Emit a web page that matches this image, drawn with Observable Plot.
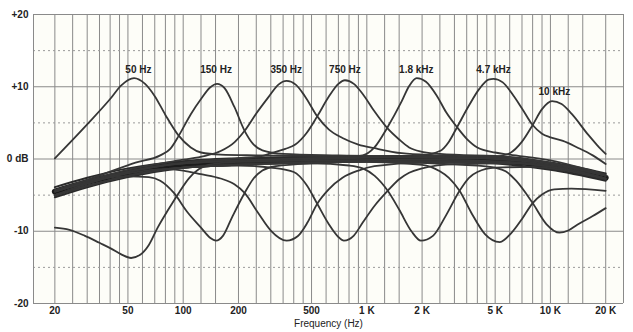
<!DOCTYPE html>
<html><head><meta charset="utf-8">
<script src="https://cdn.jsdelivr.net/npm/d3@7"></script>
<script src="https://cdn.jsdelivr.net/npm/@observablehq/plot@0.6"></script>
<style>body{margin:0;background:#fff;} svg{display:block}</style>
</head><body><div id="chart"></div>
<script>
// Tick labels
const xTicks = [20,50,100,200,500,1000,2000,5000,10000,20000];
const xTickLabels = ["20","50","100","200","500","1 K","2 K","5 K","10 K","20 K"];
const yTicks = [20,10,0,-10,-20];
const yTickLabels = ["+20","+10","0 dB","-10","-20"];
// Chart-paper grid
const gridFreqs = [20,25,30,35,40,45,50,60,70,80,90,
  100,125,150,200,250,300,350,400,450,500,600,700,800,900,
  1000,1250,1500,2000,2500,3000,3500,4000,4500,5000,6000,7000,8000,9000,
  10000,12500,15000,20000,25000];
const gridDbMajor = [-20,-10,0,10,20];
const gridDbMinor = [-15,-5,5,15];
// Curve labels
const curveLabels = ["50 Hz","150 Hz","350 Hz","750 Hz","1.8 kHz","4.7 kHz","10 kHz"];
const labelFreqs = [57,151,364,760,1860,4900,10500];
const labelDb = [12.3,12.3,12.3,12.3,12.3,12.3,9.3];

// Flat (bundle) responses: [Hz, dB]
const flatMid = [[20,-4.5],[30,-3.2],[50,-1.9],[70,-1.2],[100,-0.7],[150,-0.4],[250,-0.2],[500,0],[1000,0.1],[2000,0.1],[4000,-0.1],[7000,-0.5],[10000,-1.0],[14000,-1.7],[20000,-2.6]];
const flatHigh = [[20,-3.9],[30,-2.6],[50,-1.3],[100,-0.3],[200,0.1],[500,0.3],[1000,0.4],[2000,0.4],[5000,0.2],[10000,-0.5],[20000,-2.0]];
const flatLow = [[20,-5.3],[30,-3.9],[50,-2.5],[100,-1.2],[200,-0.6],[500,-0.3],[1000,-0.2],[2000,-0.2],[5000,-0.6],[10000,-1.5],[20000,-3.0]];

// Boost curves
const boost50 = [[20,0.1],[30,4.8],[40,8.3],[46,10.2],[54,11.2],[62,10.4],[70,8.7],[80,6.1],[94,3.3],[110,1.6],[125,0.9],[160,0.6],[250,0.5],[600,0.4],[2000,0.3],[6000,0],[12000,-0.9],[20000,-2.3]];
const boost150 = [[20,-4.3],[35,-2.3],[55,-0.5],[75,0.5],[85,1.4],[95,3.3],[110,6.2],[125,8.3],[140,9.9],[153,10.4],[168,9.8],[190,7.2],[216,3.9],[240,2.1],[270,1.2],[350,0.7],[700,0.5],[2500,0.3],[7000,-0.3],[20000,-2.3]];
const boost350 = [[20,-4.4],[50,-1.5],[100,-0.1],[130,0.4],[160,1.1],[190,2.3],[216,3.9],[250,6.3],[292,8.6],[330,10.3],[366,10.8],[410,10.3],[460,8.7],[537,5.9],[620,4.1],[737,2.9],[900,2.0],[1100,1.5],[1550,0.8],[2500,0.5],[6000,0.1],[20000,-2.3]];
const boost750 = [[20,-4.4],[100,-0.5],[200,0.1],[266,0.4],[300,0.8],[360,1.4],[408,2.0],[470,3.6],[537,5.9],[620,8.6],[700,10.4],[760,10.9],[850,10.4],[950,9.0],[1100,6.6],[1290,4.3],[1500,2.7],[1700,1.6],[2000,1.0],[2500,0.7],[6000,0.3],[20000,-2.3]];
const boost1800 = [[20,-4.5],[100,-0.6],[500,0.1],[800,0.3],[950,0.5],[1100,1.6],[1290,4.3],[1550,8.0],[1700,10.1],[1870,11.2],[2100,10.7],[2400,8.8],[2700,6.5],[3100,4.4],[3500,2.8],[4000,1.6],[5000,0.9],[6000,0.6],[10000,-0.2],[20000,-2.2]];
const boost4700 = [[20,-4.5],[100,-0.6],[1000,0.2],[2000,0.5],[2500,1.1],[2800,2.4],[3100,4.4],[3600,7.4],[4100,9.7],[4600,11.0],[4900,11.1],[5500,10.6],[6200,9.0],[7000,7.0],[8000,4.7],[9000,3.5],[10000,3.0],[11700,2.5],[14000,1.6],[17000,0.5],[20000,-0.7]];
const boost10k = [[20,-4.5],[100,-0.6],[1000,0.2],[4000,0.1],[5000,0.3],[6000,0.8],[7000,2.4],[8000,4.7],[9000,6.9],[10200,8.0],[11500,7.6],[13100,6.2],[16000,3.4],[18000,1.9],[20000,0.7]];

// Cut curves
const cut50 = [[20,-9.5],[24,-9.8],[29,-10.6],[35,-11.6],[40.5,-12.4],[46,-13.2],[52,-13.7],[58,-13.3],[65,-11.9],[72.6,-9.5],[83,-7.0],[94,-4.8],[108,-2.6],[122,-1.4],[137,-0.8],[200,-0.4],[500,-0.2],[2000,-0.1],[6000,-0.4],[12000,-1.3],[20000,-2.7]];
const cut150 = [[20,-5.1],[28,-3.6],[36,-2.7],[50,-2.4],[65,-2.5],[75,-3.0],[89,-4.7],[105,-7.3],[125,-9.5],[140,-10.9],[151,-11.3],[165,-10.6],[185,-8.0],[216,-4.7],[240,-2.8],[270,-1.6],[320,-1.0],[500,-0.6],[1500,-0.3],[6000,-0.5],[12000,-1.4],[20000,-2.7]];
const cut350 = [[20,-5.0],[50,-2.0],[80,-1.4],[100,-1.6],[125,-2.1],[160,-2.7],[190,-3.5],[216,-4.7],[255,-7.4],[300,-9.9],[366,-11.3],[420,-10.7],[475,-8.8],[537,-6.2],[620,-4.2],[737,-2.6],[900,-1.6],[1100,-1.0],[2000,-0.5],[6000,-0.5],[12000,-1.4],[20000,-2.7]];
const cut750 = [[20,-5.0],[100,-1.2],[200,-0.9],[300,-1.2],[400,-1.8],[470,-3.6],[537,-6.2],[620,-9.0],[700,-10.8],[750,-11.3],[850,-10.6],[950,-8.8],[1100,-6.5],[1300,-4.4],[1500,-2.8],[1700,-1.9],[2000,-1.3],[3000,-0.7],[6000,-0.6],[12000,-1.4],[20000,-2.7]];
const cut1800 = [[20,-5.0],[100,-1.2],[500,-0.6],[800,-0.9],[950,-1.3],[1100,-2.3],[1300,-4.4],[1500,-7.0],[1750,-10.0],[1970,-11.3],[2300,-10.6],[2700,-7.8],[3200,-4.4],[3600,-2.6],[4000,-1.8],[5000,-1.2],[8000,-1.1],[12000,-1.6],[20000,-2.8]];
const cut4700 = [[20,-5.0],[100,-1.2],[1000,-0.4],[2000,-0.8],[2500,-1.7],[2800,-2.6],[3200,-4.4],[3700,-7.4],[4400,-10.4],[5300,-11.5],[6100,-10.3],[7000,-8.3],[8000,-6.1],[9000,-4.9],[10500,-4.2],[13000,-4.1],[20000,-4.4]];
const cut10k = [[20,-5.0],[100,-1.2],[1000,-0.4],[4000,-0.9],[5000,-1.2],[5700,-1.7],[6500,-3.0],[8000,-6.1],[9500,-9.0],[11200,-10.2],[12500,-9.9],[14000,-9.1],[17000,-7.9],[20000,-6.8]];

const curveSeries = [
  ["boost50",boost50],["boost150",boost150],["boost350",boost350],["boost750",boost750],
  ["boost1800",boost1800],["boost4700",boost4700],["boost10k",boost10k],
  ["cut50",cut50],["cut150",cut150],["cut350",cut350],["cut750",cut750],
  ["cut1800",cut1800],["cut4700",cut4700],["cut10k",cut10k]
];
const flatSeries = [["flatHigh",flatHigh],["flatLow",flatLow]];
const toRows = list => list.flatMap(([name, pts]) => pts.map(([f, db]) => ({name, f, db})));
const curveRows = toRows(curveSeries);
const flatRows = toRows(flatSeries);
const midRows = toRows([["flatMid", flatMid]]);

const ink = "#363636";
const gridColor = "#8a8a8a";

const chart = Plot.plot({
  width: 633,
  height: 332,
  marginLeft: 33,
  marginRight: 10,
  marginTop: 14,
  marginBottom: 29,
  style: {fontFamily: "'Liberation Sans', Arial, sans-serif", fontSize: "10px", background: "#fff", color: "#222"},
  x: {type: "log", domain: [15.3, 25000], axis: null},
  y: {domain: [-20, 20], axis: null},
  marks: [
    Plot.frame({fill: "#fdfdf8", stroke: null}),
    Plot.ruleX(gridFreqs, {x: d => d, stroke: gridColor, strokeWidth: 1}),
    Plot.ruleY(gridDbMinor, {y: d => d, stroke: "#9a9a9a", strokeWidth: 1, strokeDasharray: "2,3"}),
    Plot.ruleY(gridDbMajor, {y: d => d, stroke: gridColor, strokeWidth: 1}),
    Plot.ruleX([15.3], {x: d => d, stroke: gridColor, strokeWidth: 1}),
    Plot.line(midRows, {x: "f", y: "db", z: "name", stroke: "#1c1c1c", strokeWidth: 6, curve: "monotone-x"}),
    Plot.line(flatRows, {x: "f", y: "db", z: "name", stroke: "#2a2a2a", strokeWidth: 2, curve: "monotone-x"}),
    Plot.line(curveRows, {x: "f", y: "db", z: "name", stroke: ink, strokeWidth: 1.8, curve: "monotone-x"}),
    Plot.text(curveLabels, {x: (d, i) => labelFreqs[i], y: (d, i) => labelDb[i], text: d => d, fontWeight: "bold", fill: "#222", fontSize: 10}),
    Plot.text(xTicks, {x: d => d, text: (d, i) => xTickLabels[i], frameAnchor: "bottom", dy: 10, fontWeight: "bold", fill: "#222", fontSize: 10}),
    Plot.text(yTicks, {y: d => d, text: (d, i) => yTickLabels[i], frameAnchor: "left", dx: -5, textAnchor: "end", fontWeight: "bold", fill: "#222", fontSize: 10}),
    Plot.text(["Frequency (Hz)"], {text: d => d, frameAnchor: "bottom", dy: 23, fill: "#222", fontSize: 10})
  ]
});
document.getElementById("chart").appendChild(chart);
</script>
</body></html>
